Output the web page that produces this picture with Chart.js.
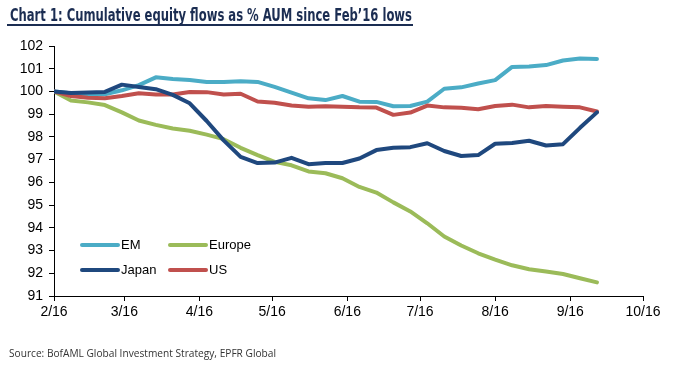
<!DOCTYPE html>
<html>
<head>
<meta charset="utf-8">
<script src="https://cdn.jsdelivr.net/npm/chart.js@4/dist/chart.umd.min.js"></script>
<style>
  html, body { margin: 0; padding: 0; background: #fff; }
  #wrap { position: relative; width: 673px; height: 365px; overflow: hidden; }
  #title { position: absolute; left: 10px; top: 5px; font-family: "Liberation Sans Narrow", "DejaVu Sans Condensed", "Liberation Sans", sans-serif; font-weight: bold; font-size: 17px; color: #1b2d52; white-space: nowrap; transform-origin: 0 0; line-height: 20px; }
  #rule { position: absolute; left: 7px; top: 24px; width: 406px; height: 2px; background: #1b2d52; }
  #source { position: absolute; left: 9px; top: 346px; font-family: "Open Sans", sans-serif; font-size: 10.5px; color: #333; white-space: nowrap; transform-origin: 0 0; }
  canvas { position: absolute; left: 0; top: 0; }
</style>
</head>
<body>
<div id="wrap">
  <canvas id="c" width="673" height="365"></canvas>
  <div id="title">Chart 1: Cumulative equity flows as % AUM since Feb’16 lows</div>
  <div id="rule"></div>
  <div id="source">Source: BofAML Global Investment Strategy, EPFR Global</div>
</div>
<script>
// Weekly observation dates
const dates = [
  "2016-02-10","2016-02-17","2016-02-24","2016-03-02","2016-03-09","2016-03-16","2016-03-23","2016-03-30",
  "2016-04-06","2016-04-13","2016-04-20","2016-04-27","2016-05-04","2016-05-11","2016-05-18","2016-05-25",
  "2016-06-01","2016-06-08","2016-06-15","2016-06-22","2016-06-29","2016-07-06","2016-07-13","2016-07-20",
  "2016-07-27","2016-08-03","2016-08-10","2016-08-17","2016-08-24","2016-08-31","2016-09-07","2016-09-14",
  "2016-09-21"
];
const seriesNames = ["EM", "Europe", "Japan", "US"];
const em = [100.0,99.92,99.88,99.88,100.05,100.28,100.62,100.55,100.5,100.42,100.42,100.45,100.42,100.2,99.95,99.7,
  99.62,99.8,99.55,99.54,99.35,99.36,99.55,100.12,100.18,100.35,100.5,101.08,101.1,101.16,101.36,101.45,101.43];
const europe = [100.0,99.6,99.52,99.4,99.08,98.72,98.53,98.37,98.27,98.1,97.9,97.52,97.2,96.9,96.75,96.48,
  96.4,96.18,95.8,95.55,95.12,94.72,94.2,93.62,93.22,92.88,92.6,92.35,92.18,92.08,91.97,91.78,91.6];
const japan = [100.0,99.93,99.95,99.98,100.3,100.2,100.1,99.85,99.48,98.7,97.85,97.12,96.85,96.87,97.08,96.8,
  96.85,96.85,97.05,97.42,97.52,97.55,97.72,97.38,97.16,97.2,97.7,97.73,97.83,97.62,97.68,98.4,99.08];
const us = [100.0,99.8,99.72,99.7,99.8,99.92,99.87,99.87,99.98,99.97,99.87,99.9,99.56,99.5,99.38,99.33,
  99.35,99.33,99.3,99.29,98.97,99.07,99.38,99.3,99.28,99.22,99.36,99.42,99.3,99.36,99.33,99.3,99.12];
// X-axis ticks (monthly, Excel date axis)
const tickDates = ["2016-02-10","2016-03-10","2016-04-10","2016-05-10","2016-06-10","2016-07-10","2016-08-10","2016-09-10","2016-10-10"];
const tickLabels = ["2/16","3/16","4/16","5/16","6/16","7/16","8/16","9/16","10/16"];
const yTicks = [91,92,93,94,95,96,97,98,99,100,101,102];

const DAY = 86400000;
const t0 = Date.parse(dates[0]);
const toDay = d => Math.round((Date.parse(d) - t0) / DAY);
const tickDays = tickDates.map(toDay);
const mk = arr => arr.map((v, i) => ({ x: toDay(dates[i]), y: v }));

const colors = { EM: "#4bacc6", Europe: "#9bbb59", Japan: "#1f487e", US: "#c0504d" };
const valuesByName = { EM: em, Europe: europe, Japan: japan, US: us };
// draw order: Japan on top
const drawOrder = { Japan: 0, US: 1, EM: 2, Europe: 3 };

const datasets = seriesNames.map(n => ({
  label: n,
  data: mk(valuesByName[n]),
  borderColor: colors[n],
  backgroundColor: colors[n],
  borderWidth: 4,
  pointRadius: 0,
  tension: 0,
  borderJoinStyle: "round",
  borderCapStyle: "round",
  order: drawOrder[n]
}));

const legendPlugin = {
  id: "legendInside",
  afterDatasetsDraw(chart) {
    const ctx = chart.ctx;
    const a = chart.chartArea;
    const cols = [a.left + 28, a.left + 116];
    const rows = [a.bottom - 51, a.bottom - 26];
    ctx.save();
    ctx.font = "13px 'Liberation Sans', Arial, sans-serif";
    ctx.textBaseline = "middle";
    ctx.fillStyle = "#000";
    chart.data.datasets.forEach((ds, i) => {
      const x = cols[i % 2], y = rows[Math.floor(i / 2)];
      ctx.strokeStyle = ds.borderColor;
      ctx.lineWidth = 4;
      ctx.lineCap = "round";
      ctx.beginPath();
      ctx.moveTo(x, y);
      ctx.lineTo(x + 36, y);
      ctx.stroke();
      ctx.fillText(ds.label, x + 39, y);
    });
    ctx.restore();
  }
};

new Chart(document.getElementById("c"), {
  type: "line",
  data: { datasets },
  plugins: [legendPlugin],
  options: {
    responsive: false,
    devicePixelRatio: 1,
    animation: false,
    layout: { padding: { left: 0, top: 46, right: 30, bottom: 0 } },
    plugins: { legend: { display: false }, tooltip: { enabled: false }, title: { display: false } },
    scales: {
      x: {
        type: "linear",
        min: tickDays[0],
        max: tickDays[tickDays.length - 1],
        afterBuildTicks: s => { s.ticks = tickDays.map(v => ({ value: v })); },
        afterFit: s => { s.height = 69; },
        ticks: {
          autoSkip: false, maxRotation: 0, padding: 3,
          color: "#000",
          font: { family: "'Liberation Sans Narrow', 'Liberation Sans', Arial, sans-serif", size: 14 },
          callback: (v, i) => tickLabels[i]
        },
        grid: { drawOnChartArea: false, tickLength: 5, color: "#000" },
        border: { color: "#000", width: 1 }
      },
      y: {
        min: yTicks[0],
        max: yTicks[yTicks.length - 1],
        afterBuildTicks: s => { s.ticks = yTicks.map(v => ({ value: v })); },
        afterFit: s => { s.width = 54; },
        ticks: {
          padding: 6,
          color: "#000",
          font: { family: "'Liberation Sans Narrow', 'Liberation Sans', Arial, sans-serif", size: 14 }
        },
        grid: { drawOnChartArea: false, tickLength: 5, color: "#000" },
        border: { color: "#000", width: 1 }
      }
    }
  }
});

// fit title width to reference span
(function () {
  const t = document.getElementById("title");
  const w = t.getBoundingClientRect().width;
  t.style.transform = "scaleX(" + (402 / w) + ")";
  const s = document.getElementById("source");
  const ws = s.getBoundingClientRect().width;
  s.style.transform = "scaleX(" + (267 / ws) + ")";
})();
</script>
</body>
</html>
